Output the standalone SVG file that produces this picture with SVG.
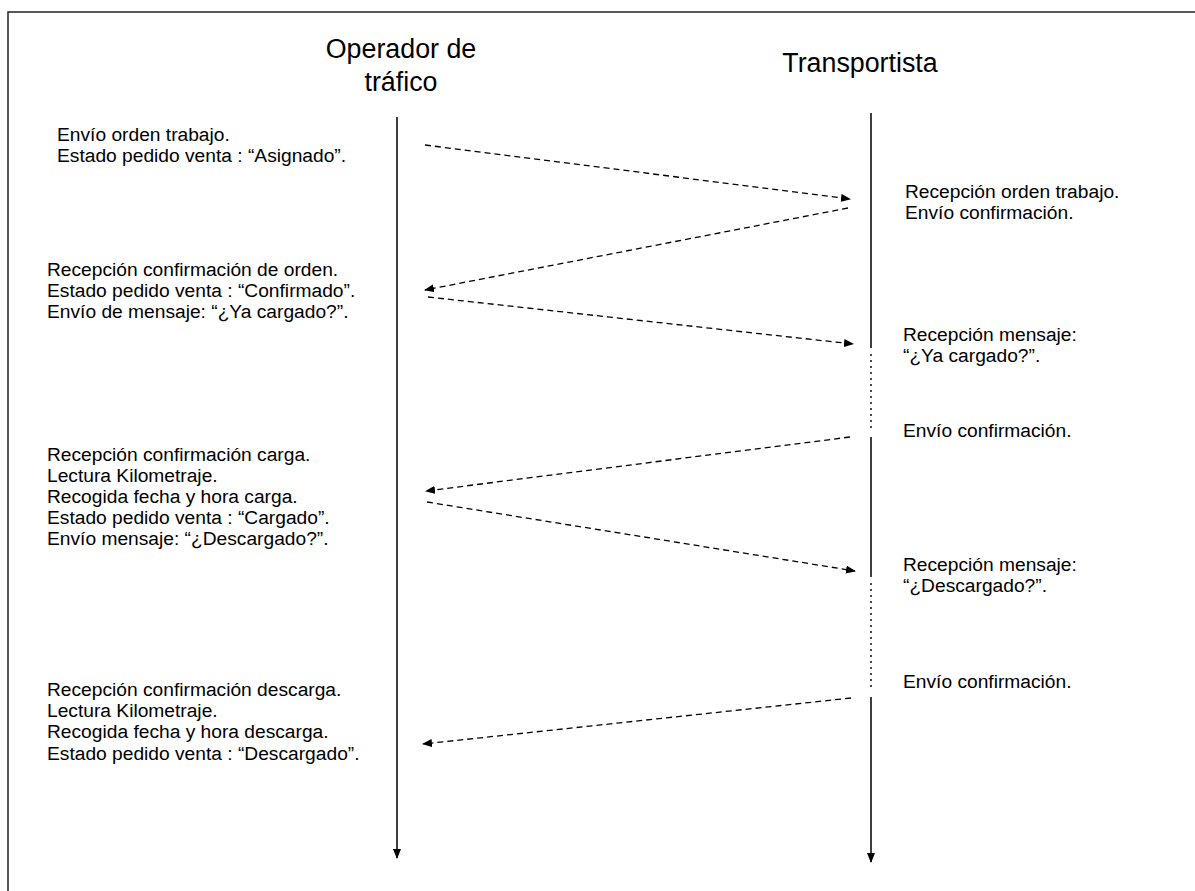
<svg xmlns="http://www.w3.org/2000/svg" width="1195" height="891" viewBox="0 0 1195 891">
<style>
text{font-family:"Liberation Sans",Arial,sans-serif;fill:#000}
.t{font-size:19.2px}
.h{font-size:26.8px;text-anchor:middle}
.life{stroke:#000;stroke-width:1.5;fill:none}
.dot{stroke:#000;stroke-width:1.4;stroke-dasharray:2 4;fill:none}
.msg{stroke:#000;stroke-width:1.3;stroke-dasharray:6 4;fill:none}
</style>
<defs>
<marker id="ah" markerWidth="10" markerHeight="8" refX="9" refY="4" orient="auto" markerUnits="userSpaceOnUse">
<path d="M0,0 L10,4 L0,8 Z" fill="#000"/>
</marker>
</defs>
<rect x="0" y="0" width="1195" height="891" fill="#fff"/>
<rect x="8" y="12" width="1200" height="900" fill="none" stroke="#222" stroke-width="1.5"/>
<g id="operador">
<text class="h" x="401" y="58">Operador de</text>
<text class="h" x="401" y="91">tráfico</text>
<line class="life" x1="397" y1="117" x2="397" y2="858" marker-end="url(#ah)"/>
</g>
<g id="transportista">
<text class="h" x="860" y="72">Transportista</text>
<path class="life" d="M871,113 V348 M871,437 V577 M871,697 V862" marker-end="url(#ah)"/>
<line class="dot" x1="871" y1="354" x2="871" y2="432"/>
<line class="dot" x1="871" y1="583" x2="871" y2="691"/>
</g>
<g id="op-texts">
<text class="t" x="57" y="141">Envío orden trabajo.</text>
<text class="t" x="57" y="162">Estado pedido venta : “Asignado”.</text>
<text class="t" x="47" y="276">Recepción confirmación de orden.</text>
<text class="t" x="47" y="297">Estado pedido venta : “Confirmado”.</text>
<text class="t" x="47" y="318">Envío de mensaje: “¿Ya cargado?”.</text>
<text class="t" x="47" y="461">Recepción confirmación carga.</text>
<text class="t" x="47" y="482">Lectura Kilometraje.</text>
<text class="t" x="47" y="503">Recogida fecha y hora carga.</text>
<text class="t" x="47" y="524">Estado pedido venta : “Cargado”.</text>
<text class="t" x="47" y="545">Envío mensaje: “¿Descargado?”.</text>
<text class="t" x="47" y="696">Recepción confirmación descarga.</text>
<text class="t" x="47" y="717">Lectura Kilometraje.</text>
<text class="t" x="47" y="738">Recogida fecha y hora descarga.</text>
<text class="t" x="47" y="760">Estado pedido venta : “Descargado”.</text>
</g>
<g id="tr-texts">
<text class="t" x="905" y="198">Recepción orden trabajo.</text>
<text class="t" x="905" y="219">Envío confirmación.</text>
<text class="t" x="903" y="341">Recepción mensaje:</text>
<text class="t" x="903" y="362">“¿Ya cargado?”.</text>
<text class="t" x="903" y="437">Envío confirmación.</text>
<text class="t" x="903" y="571">Recepción mensaje:</text>
<text class="t" x="903" y="592">“¿Descargado?”.</text>
<text class="t" x="903" y="688">Envío confirmación.</text>
</g>
<g id="connectors">
<line class="msg" x1="425" y1="145" x2="850" y2="199" marker-end="url(#ah)"/>
<line class="msg" x1="848" y1="208" x2="425" y2="290" marker-end="url(#ah)"/>
<line class="msg" x1="428" y1="297" x2="853" y2="344" marker-end="url(#ah)"/>
<line class="msg" x1="850" y1="437" x2="426" y2="491" marker-end="url(#ah)"/>
<line class="msg" x1="427" y1="502" x2="855" y2="571" marker-end="url(#ah)"/>
<line class="msg" x1="851" y1="698" x2="423" y2="744" marker-end="url(#ah)"/>
</g>
</svg>
